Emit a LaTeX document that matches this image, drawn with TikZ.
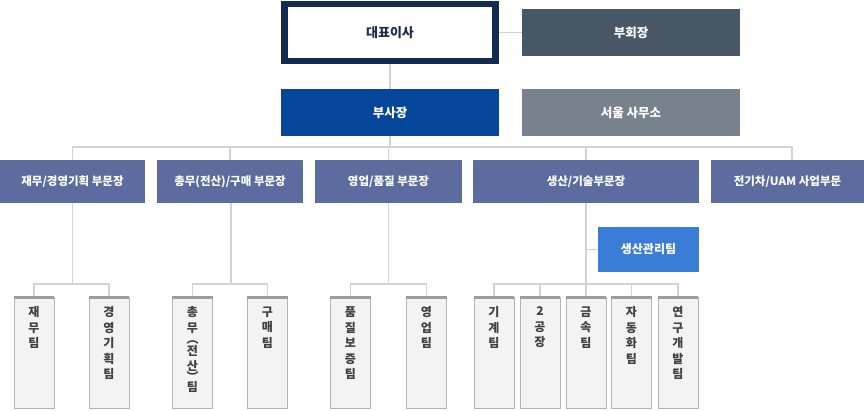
\documentclass[tikz,border=0pt]{standalone}
\usepackage{fontspec}
\setmainfont{Noto Sans CJK KR}
\usetikzlibrary{backgrounds}
\definecolor{ceoB}{HTML}{142A52}
\definecolor{ceoT}{HTML}{1E2B4A}
\definecolor{vcF}{HTML}{495866}
\definecolor{vpF}{HTML}{06469A}
\definecolor{soF}{HTML}{78828C}
\definecolor{dF}{HTML}{5D6C9E}
\definecolor{pmF}{HTML}{3A7DD9}
\definecolor{ln}{HTML}{D3D3D3}
\definecolor{tF}{HTML}{F3F3F3}
\definecolor{tB}{HTML}{B4B4B4}
\definecolor{tTop}{HTML}{9C9C9C}
\definecolor{tT}{HTML}{404040}
\begin{document}
\begin{tikzpicture}[x=1pt,y=-1pt,
  topbox/.style={minimum width=218pt, minimum height=47pt, inner sep=0pt, text=white, font=\bfseries\fontsize{12.5}{14}\selectfont},
  dept/.style={fill=dF, minimum height=43pt, inner sep=0pt, text=white, font=\bfseries\fontsize{11.5}{13}\selectfont},
  team/.style={draw=tB, fill=tF, line width=0.8pt, minimum width=40pt, minimum height=111pt, inner sep=0pt},
  teamtxt/.style={align=center, inner sep=0pt, text=tT, font=\bfseries\fontsize{12}{15.5}\selectfont},
  topbar/.style={draw=tTop, line width=3pt},
  conn/.style={draw=ln, line width=1.4pt}]
\useasboundingbox (0,0) rectangle (864,410);

\coordinate (mb) at (390,147);
\coordinate (jb) at (72.5,284);
\coordinate (cb) at (231,284);
\coordinate (yb) at (388.5,284);
\coordinate (pb) at (586,284);

% top level
\node[topbox, draw=ceoB, line width=6.5pt, fill=white, minimum width=211pt, minimum height=57pt, text=ceoT, font=\bfseries\fontsize{13}{15}\selectfont] (ceo) at (390,32.5) {대표이사};
\node[topbox, fill=vcF] (vc) at (631,32.5) {부회장};
\node[topbox, fill=vpF] (vp) at (390,112.5) {부사장};
\node[topbox, fill=soF] (so) at (631,112.5) {서울 사무소};

% departments
\node[dept, minimum width=145pt] (jm) at (72.5,181.5) {재무/경영기획 부문장};
\node[dept, minimum width=146pt] (cm) at (230,181.5) {총무(전산)/구매 부문장};
\node[dept, minimum width=147pt] (ys) at (388.5,181.5) {영업/품질 부문장};
\node[dept, minimum width=226pt] (sp) at (586,181.5) {생산/기술부문장};
\node[dept, minimum width=153pt] (ev) at (787.5,181.5) {전기차/UAM 사업부문};

\node[fill=pmF, minimum width=101pt, minimum height=45pt, inner sep=0pt, text=white, font=\bfseries\fontsize{12}{14}\selectfont] (pm) at (648.5,249.5) {생산관리팀};

% teams
\node[team] (t1) at (34,352.5) {};
\node[team] (t2) at (109,352.5) {};
\node[team] (t3) at (192.5,352.5) {};
\node[team] (t4) at (267.5,352.5) {};
\node[team] (t5) at (350.5,352.5) {};
\node[team] (t6) at (426.5,352.5) {};
\node[team] (t7) at (494,352.5) {};
\node[team] (t8) at (540,352.5) {};
\node[team] (t9) at (586,352.5) {};
\node[team] (t10) at (631.5,352.5) {};
\node[team] (t11) at (678,352.5) {};

\foreach \t in {t1,t2,t3,t4,t5,t6,t7,t8,t9,t10,t11}{
  \draw[topbar] ([yshift=-1pt]\t.north west) -- ([yshift=-1pt]\t.north east);
}

\node[teamtxt, anchor=north] (x1) at ([yshift=-10pt]t1.north) {재\\무\\팀};
\node[teamtxt, anchor=north] (x2) at ([yshift=-10pt]t2.north) {경\\영\\기\\획\\팀};
\node[teamtxt, anchor=north] (x3) at ([yshift=-10pt]t3.north) {총\\무\\[-4pt]︵\\[-4pt]전\\산\\[-5pt]︶\\[-5pt]팀};
\node[teamtxt, anchor=north] (x4) at ([yshift=-10pt]t4.north) {구\\매\\팀};
\node[teamtxt, anchor=north] (x5) at ([yshift=-10pt]t5.north) {품\\질\\보\\증\\팀};
\node[teamtxt, anchor=north] (x6) at ([yshift=-10pt]t6.north) {영\\업\\팀};
\node[teamtxt, anchor=north] (x7) at ([yshift=-10pt]t7.north) {기\\계\\팀};
\node[teamtxt, anchor=north] (x8) at ([yshift=-10pt]t8.north) {2\\공\\장};
\node[teamtxt, anchor=north] (x9) at ([yshift=-10pt]t9.north) {금\\속\\팀};
\node[teamtxt, anchor=north] (x10) at ([yshift=-10pt]t10.north) {자\\동\\화\\팀};
\node[teamtxt, anchor=north] (x11) at ([yshift=-10pt]t11.north) {연\\구\\개\\발\\팀};

% connectors, behind the boxes
\begin{scope}[on background layer]
\fill[white] (0,0) rectangle (864,410);
\draw[conn] (ceo.east) -- (vc.west);
\draw[conn] (ceo.south) -- (vp.north);
\draw[conn] (vp.south) -- (mb);
\draw[conn] (jm.north) |- (mb);
\draw[conn] (cm.north) |- (mb);
\draw[conn] (ys.north) |- (mb);
\draw[conn] (sp.north) |- (mb);
\draw[conn] (mb) -| ([xshift=4.5pt]ev.north);
\draw[conn] (jm.south) -- (jb);
\draw[conn] (t1.north) |- (jb);
\draw[conn] (t2.north) |- (jb);
\draw[conn] ([xshift=1pt]cm.south) -- (cb);
\draw[conn] (t3.north) |- (cb);
\draw[conn] (t4.north) |- (cb);
\draw[conn] (ys.south) -- (yb);
\draw[conn] (t5.north) |- (yb);
\draw[conn] (t6.north) |- (yb);
\draw[conn] (sp.south) -- (t9.north);
\draw[conn] (pm.west) -- (pm.west -| sp.south);
\draw[conn] (t7.north) |- (pb);
\draw[conn] (t8.north) |- (pb);
\draw[conn] (t10.north) |- (pb);
\draw[conn] (t11.north) |- (pb);
\end{scope}
\end{tikzpicture}
\end{document}
